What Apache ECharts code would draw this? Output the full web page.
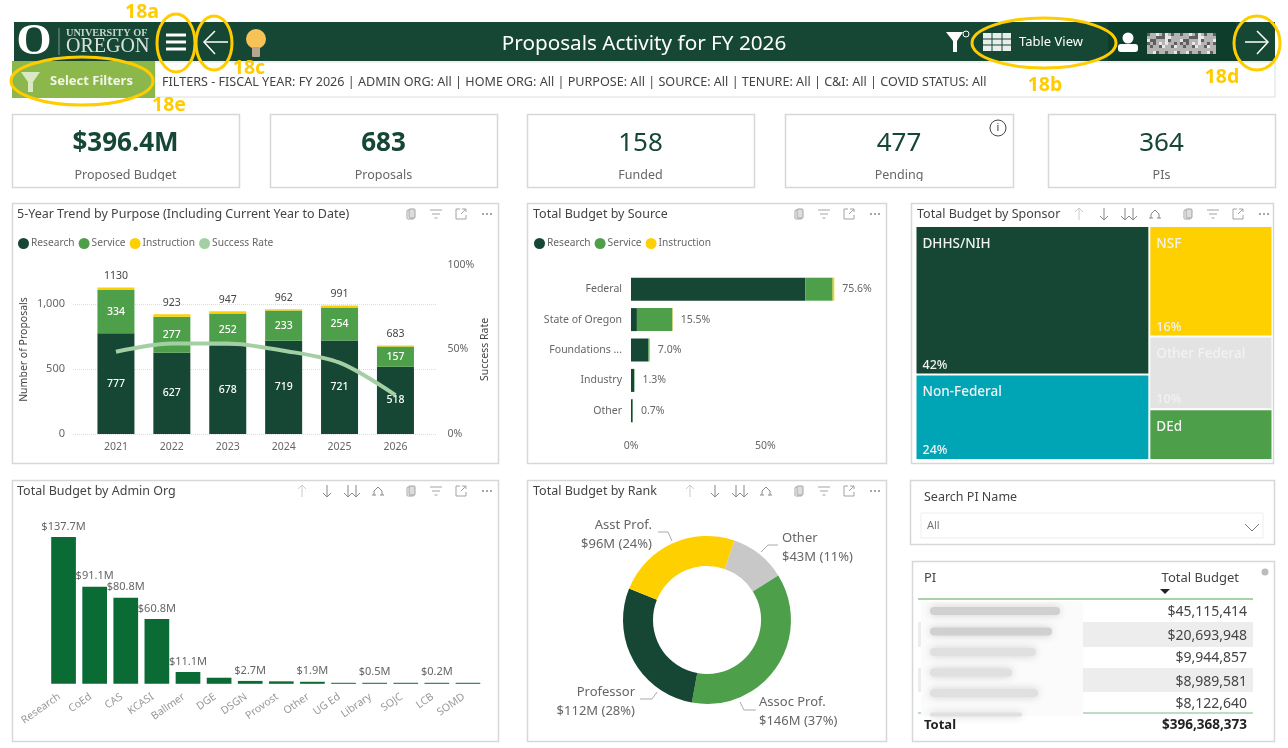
<!DOCTYPE html>
<html lang="en">
<head>
    <meta charset="utf-8">
    <title>Proposals Activity for FY 2026</title>
    <script src="https://cdn.jsdelivr.net/npm/echarts@6/dist/echarts.min.js"></script>
    <style type="text/css">
        html, body { height: 100%; margin: 0; background: #fff; }
    </style>
</head>
<body>
    <div id="main" style="width:1288px;height:748px;"></div>
    <script type="text/javascript">
        // trend chart
        const trendYears = ['2021', '2022', '2023', '2024', '2025', '2026'];
        const trendResearch = [777, 627, 678, 719, 721, 518];
        const trendService = [334, 277, 252, 233, 254, 157];
        const trendInstruction = [19, 19, 17, 10, 16, 8];
        const trendTotals = [1130, 923, 947, 962, 991, 683];
        const trendSuccessRate = [48.7, 53.6, 53.6, 49.3, 42.2, 23];

        // budget by source, percent of total
        const sourceNames = ['Federal', 'State of Oregon', 'Foundations ...', 'Industry', 'Other'];
        const sourceResearch = [64.8, 2.2, 6.4, 1.2, 0.6];
        const sourceService = [10.2, 13.2, 0.5, 0.1, 0.1];
        const sourceInstruction = [0.6, 0.1, 0.1, 0, 0];
        const sourceTotals = ['75.6%', '15.5%', '7.0%', '1.3%', '0.7%'];

        // budget by sponsor
        const sponsorNames = ['DHHS/NIH', 'Non-Federal', 'NSF', 'Other Federal', 'DEd'];
        const sponsorValues = [41.6, 23.9, 16.3, 10.7, 7.5];
        const sponsorLabels = ['42%', '24%', '16%', '10%', ''];
        const sponsorColors = ['#154734', '#00a5b5', '#ffd000', '#e3e3e3', '#4e9f4a'];

        // budget by admin org, $M
        const adminNames = ['Research', 'CoEd', 'CAS', 'KCASI', 'Ballmer', 'DGE', 'DSGN', 'Provost', 'Other', 'UG Ed', 'Library', 'SOJC', 'LCB', 'SOMD'];
        const adminValues = [137.7, 91.1, 80.8, 60.8, 11.1, 5.7, 2.7, 2.3, 1.9, 0.6, 0.5, 0.3, 0.2, 0.1];
        const adminLabels = ['$137.7M', '$91.1M', '$80.8M', '$60.8M', '$11.1M', '', '$2.7M', '', '$1.9M', '', '$0.5M', '', '$0.2M', ''];

        // budget by rank, $M
        const rankNames = ['Other', 'Assoc Prof.', 'Professor', 'Asst Prof.'];
        const rankValues = [43, 146, 112, 96];
        const rankColors = ['#c8c8c8', '#4e9f4a', '#154734', '#ffd000'];

        // KPI tiles
        const kpiValues = ['$396.4M', '683', '158', '477', '364'];
        const kpiNames = ['Proposed Budget', 'Proposals', 'Funded', 'Pending', 'PIs'];

        // PI table
        const piBudgets = ['$45,115,414', '$20,693,948', '$9,944,857', '$8,989,581', '$8,122,640'];
        const piTotal = '$396,368,373';

        const FONT = '"Noto Sans", sans-serif';
        const DARK = '#154734', GREEN = '#4e9f4a', GOLD = '#ffd000', MARK = '#ffcc00';
        const GREY = '#666';

        myChart = echarts.init(document.getElementById('main'));

        // ---- page furniture helpers ----
        function box(x, y, w, h, fill, stroke, r) {
            return { type: 'rect', silent: true, shape: { x: x, y: y, width: w, height: h, r: r || 0 }, style: { fill: fill || '#fff', stroke: stroke || null, lineWidth: stroke ? 1 : 0 } };
        }
        function card(x, y, w, h) {
            return { type: 'rect', silent: true, shape: { x: x + 0.5, y: y + 0.5, width: w, height: h }, style: { fill: '#fff', stroke: '#d6d8d8', lineWidth: 1.5 } };
        }
        function txt(x, y, s, size, color, extra) {
            return {
                type: 'text', silent: true, x: x, y: y,
                style: Object.assign({ text: s, fontSize: size, fill: color, fontFamily: FONT, textVerticalAlign: 'middle' }, extra || {})
            };
        }
        function line(points, color, width) {
            return { type: 'polyline', silent: true, shape: { points: points }, style: { stroke: color, lineWidth: width || 1, fill: null } };
        }
        function ring(cx, cy, rx, ry) {
            return { type: 'ellipse', silent: true, shape: { cx: cx, cy: cy, rx: rx, ry: ry }, style: { stroke: MARK, lineWidth: 3, fill: null } };
        }
        function tag(x, y, s) {
            return txt(x, y, s, 19.5, MARK, { fontWeight: 'bold', textAlign: 'center' });
        }

        // little visual header icons
        const ICON = '#a3a3a3';
        function iconCopy(x, y) {
            return [box(x - 4, y - 4, 7, 9, '#fff', ICON, 1), box(x - 2, y - 5, 6, 9, '#ddd', ICON, 1)];
        }
        function iconFilter(x, y) {
            return [line([[x - 6, y - 4], [x + 6, y - 4]], ICON), line([[x - 4, y], [x + 4, y]], ICON), line([[x - 1.5, y + 4], [x + 1.5, y + 4]], ICON)];
        }
        function iconExpand(x, y) {
            return [line([[x - 1, y - 5], [x - 5, y - 5], [x - 5, y + 5], [x + 5, y + 5], [x + 5, y + 1]], ICON), line([[x + 1, y - 5], [x + 5, y - 5], [x + 5, y - 2]], ICON), line([[x + 5, y - 5], [x, y]], ICON)];
        }
        function iconMore(x, y) {
            return [-4, 0, 4].map(function (d) {
                return { type: 'circle', silent: true, shape: { cx: x + d, cy: y, r: 1 }, style: { fill: '#888' } };
            });
        }
        function iconUp(x, y) {
            return [line([[x, y - 6], [x, y + 6]], '#ccc'), line([[x - 4, y - 2], [x, y - 6], [x + 4, y - 2]], '#ccc')];
        }
        function iconDown(x, y) {
            return [line([[x, y - 6], [x, y + 6]], '#888'), line([[x - 4, y + 2], [x, y + 6], [x + 4, y + 2]], '#888')];
        }
        function iconDown2(x, y) {
            return iconDown(x - 4, y).concat(iconDown(x + 4, y));
        }
        function iconFork(x, y) {
            return [line([[x - 4, y + 4], [x - 4, y], [x, y - 4], [x + 4, y], [x + 4, y + 4]], '#888'), line([[x - 6, y + 4], [x - 2, y + 4]], '#888'), line([[x + 2, y + 4], [x + 6, y + 4]], '#888')];
        }
        function cardHeader(xRight, y, withDrill) {
            let out = [].concat(iconCopy(xRight - 76, y), iconFilter(xRight - 51, y), iconExpand(xRight - 26, y), iconMore(xRight, y));
            if (withDrill) {
                out = out.concat(iconUp(xRight - 185, y), iconDown(xRight - 160, y), iconDown2(xRight - 135, y), iconFork(xRight - 109, y));
            }
            return out;
        }

        // ---- page furniture ----
        let page = [];
        // header band
        page.push(box(14, 22, 1261, 39, DARK), box(1108, 22, 128, 39, '#0f3d2b'));
        page.push(txt(34, 42, 'O', 45, '#fff', { fontFamily: '"Liberation Serif", serif', fontWeight: 'bold', textAlign: 'center' }));
        page.push(line([[59, 28], [59, 55]], '#7f9c90'));
        page.push(txt(66, 33, 'UNIVERSITY OF', 10.3, '#c9d4cf', { fontFamily: '"Liberation Serif", serif', fontWeight: 'bold' }));
        page.push(txt(66, 47, 'OREGON', 20, '#d9e2de', { fontFamily: '"Liberation Serif", serif' }));
        // hamburger, back arrow, bulb
        [35, 42, 49].forEach(function (y) { page.push(line([[166, y], [186, y]], '#fff', 3)); });
        page.push(line([[228, 42], [205, 42]], '#fff', 1.5), line([[215, 31], [204, 42], [215, 54]], '#fff', 1.5));
        page.push({ type: 'circle', silent: true, shape: { cx: 256, cy: 39, r: 10 }, style: { fill: '#f8c356' } });
        page.push(box(252, 47, 8, 10, '#b9a58f', null, 1));
        page.push(txt(644, 44, 'Proposals Activity for FY 2026', 20.7, '#fff', { textAlign: 'center' }));
        // right side of header
        page.push({ type: 'polygon', silent: true, shape: { points: [[946, 32], [963, 32], [957, 41], [957, 52], [953, 52], [953, 41]] }, style: { fill: '#fff' } });
        page.push({ type: 'circle', silent: true, shape: { cx: 966, cy: 34, r: 3 }, style: { stroke: '#fff', fill: null, lineWidth: 1 } });
        page.push(box(983, 33, 28, 18, '#e8eeeb'));
        [39, 45].forEach(function (y) { page.push(line([[983, y], [1011, y]], DARK)); });
        [992, 1002].forEach(function (x) { page.push(line([[x, 33], [x, 51]], DARK)); });
        page.push(txt(1019, 42, 'Table View', 13, '#fff'));
        page.push({ type: 'circle', silent: true, shape: { cx: 1128, cy: 38, r: 5.5 }, style: { fill: '#fff' } });
        page.push(box(1118, 44, 20, 8, '#fff', null, 3));
        // pixelated user name
        page.push(box(1147, 33, 69, 21, '#b4b4b4'));
        for (let i = 0; i < 23; i++) {
            for (let j = 0; j < 7; j++) {
                const k = (i * 7 + j * j * 5 + i * j * 3) % 11;
                if (k < 3) page.push(box(1147 + i * 3, 33 + j * 3, 3, 3, '#5f5f5f'));
                else if (k > 8) page.push(box(1147 + i * 3, 33 + j * 3, 3, 3, '#e8e8e8'));
            }
        }
        page.push(line([[1268, 42], [1245, 42]], '#fff', 1.5), line([[1257, 31], [1268, 42], [1257, 54]], '#fff', 1.5));
        // filter strip
        page.push(box(155, 62, 1120, 35, '#fff', '#dcdede'));
        page.push(box(12, 61, 143, 37, '#8cb84b'));
        page.push({ type: 'polygon', silent: true, shape: { points: [[21, 72], [40, 72], [33, 82], [33, 92], [28, 92], [28, 82]] }, style: { fill: '#dbe8c4' } });
        page.push(txt(50, 81, 'Select Filters', 13, '#f2f6e8', { fontWeight: 'bold' }));
        page.push(txt(162, 82, 'FILTERS - FISCAL YEAR: FY 2026 | ADMIN ORG: All | HOME ORG: All | PURPOSE: All | SOURCE: All | TENURE: All | C&I: All | COVID STATUS: All', 12.6, '#444'));
        // KPI tiles
        const tileX = [12, 270, 527, 785, 1048];
        const tileW = [227, 227, 227, 228, 227];
        kpiValues.forEach(function (v, i) {
            page.push(card(tileX[i], 114, tileW[i], 73));
            page.push(txt(tileX[i] + tileW[i] / 2, 144, v, 26, DARK, { textAlign: 'center', fontWeight: i < 2 ? 'bold' : 'normal' }));
            page.push(txt(tileX[i] + tileW[i] / 2, 175, kpiNames[i], 12.5, GREY, { textAlign: 'center' }));
            // the tile captions are cut off at the bottom in the source
            page.push(box(tileX[i] + 10, 181, tileW[i] - 20, 5, '#fff'));
        });
        page.push({ type: 'circle', silent: true, shape: { cx: 998, cy: 128, r: 8 }, style: { stroke: '#444', fill: '#fff', lineWidth: 1 } });
        page.push(txt(998, 128, 'i', 11, '#444', { textAlign: 'center' }));
        // chart cards
        page.push(card(12, 203, 486, 260), card(527, 203, 359, 260), card(911, 203, 362, 260));
        page.push(card(12, 480, 486, 261), card(527, 480, 359, 261));
        page.push(txt(17, 214, '5-Year Trend by Purpose (Including Current Year to Date)', 12.5, '#444'));
        page.push(txt(533, 214, 'Total Budget by Source', 12.5, '#444'));
        page.push(txt(917, 214, 'Total Budget by Sponsor', 12.5, '#444'));
        page.push(txt(17, 491, 'Total Budget by Admin Org', 12.5, '#444'));
        page.push(txt(533, 491, 'Total Budget by Rank', 12.5, '#444'));
        page = page.concat(cardHeader(487, 214, false), cardHeader(875, 214, false), cardHeader(1264, 214, true), cardHeader(487, 491, true), cardHeader(875, 491, true));
        // slicer
        page.push(card(910, 480, 364, 64));
        page.push(txt(924, 497, 'Search PI Name', 12.5, '#444'));
        page.push(box(921, 513, 342, 25, '#fff', '#eeeeee'));
        page.push(txt(927, 526, 'All', 11, '#777'));
        page.push(line([[1245, 524], [1252, 531], [1259, 524]], '#777'));
        // PI table
        page.push(card(912, 561, 362, 180));
        page.push(txt(924, 578, 'PI', 13, '#444'));
        page.push(txt(1239, 578, 'Total Budget', 13, '#444', { textAlign: 'right' }));
        page.push({ type: 'polygon', silent: true, shape: { points: [[1160, 589], [1170, 589], [1165, 594]] }, style: { fill: '#222' } });
        page.push({ type: 'circle', silent: true, shape: { cx: 1265, cy: 572, r: 3.5 }, style: { fill: '#bbb' } });
        page.push(box(918, 622, 335, 25, '#eeedee'), box(918, 668, 335, 24, '#eeedee'));
        page.push(line([[918, 599], [1253, 599]], '#a8d2a8', 2), line([[918, 713], [1253, 713]], '#a8d2a8', 1.5));
        const rowY = [612, 636, 658, 682, 704];
        // blurred PI names are only grey smudges in the source
        page.push(box(921, 602, 162, 114, '#fbfbfb'));
        const blurW = [130, 122, 106, 82, 108, 92];
        blurW.forEach(function (w, i) {
            page.push({ type: 'rect', silent: true, shape: { x: 930, y: 607 + i * 20.5 + (i === 5 ? 3 : 0), width: w, height: i === 5 ? 4 : 8, r: 4 }, style: { fill: i < 2 ? '#d0d0d0' : '#e0e0e0', shadowBlur: 9, shadowColor: '#d0d0d0' } });
        });
        piBudgets.forEach(function (v, i) {
            page.push(txt(1247, rowY[i], v, 14, '#444', { textAlign: 'right' }));
        });
        page.push(txt(924, 725, 'Total', 13, '#222', { fontWeight: 'bold' }));
        page.push(txt(1247, 725, piTotal, 13.5, '#222', { textAlign: 'right', fontWeight: 'bold' }));
        // callouts
        page.push(ring(176, 43, 19, 29), ring(214, 43, 18, 27), ring(82, 81, 71, 24), ring(1044, 43, 72, 25), ring(1257, 43, 23, 27));
        page.push(tag(142, 12, '18a'), tag(249, 68, '18c'), tag(169, 105, '18e'), tag(1045, 85, '18b'), tag(1222, 77, '18d'));

        // ---- treemap data: two columns like the source ----
        function sponsorLeaf(i) {
            return { name: sponsorNames[i], value: sponsorValues[i], pct: sponsorLabels[i], itemStyle: { color: sponsorColors[i] } };
        }
        function sumOf(list) {
            return list.reduce(function (a, i) { return a + sponsorValues[i]; }, 0);
        }
        const sponsorTree = [
            { name: 'left', value: sumOf([0, 1]), children: [0, 1].map(sponsorLeaf) },
            { name: 'right', value: sumOf([2, 3, 4]), children: [2, 3, 4].map(sponsorLeaf) }
        ];
        function sponsorSeries(labelOpt, overlay) {
            const clear = 'rgba(0,0,0,0)';
            const lvl = overlay ? { itemStyle: { color: clear, borderColor: clear, gapWidth: 2, borderWidth: 0 } } : { itemStyle: { gapWidth: 2, borderWidth: 0 } };
            return {
                type: 'treemap', left: 916.5, top: 227, width: 355, height: 232,
                roam: false, nodeClick: false, sort: false, breadcrumb: { show: false },
                silent: true, z: overlay ? 3 : 2,
                squareRatio: 1,
                label: labelOpt,
                levels: [lvl, lvl, lvl],
                data: overlay ? sponsorTree.map(function (g) {
                    return { name: g.name, value: g.value, children: g.children.map(function (c) { return { name: c.name, value: c.value, pct: c.pct, itemStyle: { color: clear } }; }) };
                }) : sponsorTree
            };
        }

        function commonLegend(left, top, names) {
            return {
                left: left, top: top, data: names, icon: 'circle', itemWidth: 11, itemHeight: 11, itemGap: 4,
                selectedMode: false, padding: 0,
                textStyle: { color: GREY, fontSize: 10.2, fontFamily: FONT, padding: [0, 0, 0, -3] }
            };
        }

        // where the rank labels and their leader lines sit in the source
        const rankLabelSpots = [
            { x: 782, y: 547.5, align: 'left', labelLinePoints: [[761, 552], [768, 545], [778, 545]] },
            { x: 759, y: 712, align: 'left', labelLinePoints: [[740, 702], [744, 710], [756, 710]] },
            { x: 635, y: 701.5, align: 'right', labelLinePoints: [[657, 692], [652, 699], [640, 699]] },
            { x: 652, y: 535, align: 'right', labelLinePoints: [[672, 541], [668, 532], [658, 532]] }
        ];

        const option = {
            animation: false,
            textStyle: { fontFamily: FONT },
            graphic: { elements: page },
            legend: [
                commonLegend(18, 238, ['Research', 'Service', 'Instruction', 'Success Rate']),
                commonLegend(534, 238, ['Research', 'Service', 'Instruction'])
            ],
            grid: [
                { left: 73, top: 304.3, width: 364, height: 129.7 },   // gridlines of the trend chart
                { left: 88, top: 265, width: 335.4, height: 169 },     // trend bars
                { left: 631, top: 274, width: 242, height: 152 },      // source bars
                { left: 48, top: 524, width: 435.5, height: 159.8 }    // admin org bars
            ],
            xAxis: [
                { gridIndex: 0, type: 'value', show: false, min: 0, max: 1 },
                {
                    gridIndex: 1, type: 'category', data: trendYears,
                    axisLine: { show: false }, axisTick: { show: false },
                    axisLabel: { color: GREY, fontSize: 10.5, margin: 8 }
                },
                {
                    gridIndex: 2, type: 'value', min: 0, max: 90,
                    axisLine: { show: false }, axisTick: { show: false }, splitLine: { show: false },
                    axisLabel: { color: GREY, fontSize: 10.5, margin: 15, customValues: [0, 50], formatter: '{value}%' }
                },
                {
                    gridIndex: 3, type: 'category', data: adminNames,
                    axisLine: { show: false }, axisTick: { show: false },
                    axisLabel: { color: '#999', fontSize: 10.5, rotate: 35, interval: 0, margin: 9, padding: [0, 5, 0, 0] }
                }
            ],
            yAxis: [
                {
                    gridIndex: 0, type: 'value', min: 0, max: 1000, interval: 500,
                    axisLine: { show: false }, axisTick: { show: false },
                    axisLabel: { color: GREY, fontSize: 11, margin: 8 },
                    splitLine: { lineStyle: { color: '#dcdcdc', type: 'dotted' } }
                },
                {
                    gridIndex: 1, type: 'value', min: 0, max: 1303,
                    axisLine: { show: false }, axisTick: { show: false }, axisLabel: { show: false }, splitLine: { show: false },
                    name: 'Number of Proposals', nameLocation: 'middle', nameGap: 58,
                    nameTextStyle: { color: '#444', fontSize: 10.5 }
                },
                {
                    gridIndex: 1, type: 'value', min: 0, max: 100, interval: 50, position: 'right', offset: 20,
                    axisLine: { show: false },
                    axisTick: { inside: true, length: 13, lineStyle: { color: '#d8d8d8', type: 'dotted' } },
                    axisLabel: { color: GREY, fontSize: 10.5, margin: 4, formatter: '{value}%' },
                    splitLine: { show: false },
                    name: 'Success Rate', nameLocation: 'middle', nameGap: 36, nameRotate: 90,
                    nameTextStyle: { color: '#444', fontSize: 10.5 }
                },
                {
                    gridIndex: 2, type: 'category', data: sourceNames, inverse: true,
                    axisLine: { show: false }, axisTick: { show: false },
                    axisLabel: { color: GREY, fontSize: 10.5, margin: 9 }
                },
                {
                    gridIndex: 3, type: 'value', min: 0, max: 150, show: false
                }
            ],
            series: [
                // trend
                {
                    type: 'bar', name: 'Research', xAxisIndex: 1, yAxisIndex: 1, stack: 'trend', barWidth: 37,
                    data: trendResearch, itemStyle: { color: DARK },
                    label: { show: true, color: '#fff', fontSize: 10.5, fontWeight: 500 }
                },
                {
                    type: 'bar', name: 'Service', xAxisIndex: 1, yAxisIndex: 1, stack: 'trend',
                    data: trendService, itemStyle: { color: GREEN },
                    label: { show: true, color: '#fff', fontSize: 10.5, fontWeight: 500 }
                },
                {
                    type: 'bar', name: 'Instruction', xAxisIndex: 1, yAxisIndex: 1, stack: 'trend',
                    data: trendInstruction, itemStyle: { color: GOLD },
                    label: {
                        show: true, position: 'top', distance: 6, color: '#444', fontSize: 10.5,
                        formatter: function (p) { return trendTotals[p.dataIndex]; }
                    }
                },
                {
                    type: 'line', name: 'Success Rate', xAxisIndex: 1, yAxisIndex: 2, smooth: 0.3, showSymbol: false,
                    data: trendSuccessRate, itemStyle: { color: '#a4cfa4' }, lineStyle: { color: '#a4cfa4', width: 4 }, z: 5
                },
                // source
                {
                    type: 'bar', name: 'Research', xAxisIndex: 2, yAxisIndex: 3, stack: 'source', barWidth: 23,
                    data: sourceResearch, itemStyle: { color: DARK }
                },
                {
                    type: 'bar', name: 'Service', xAxisIndex: 2, yAxisIndex: 3, stack: 'source',
                    data: sourceService, itemStyle: { color: GREEN }
                },
                {
                    type: 'bar', name: 'Instruction', xAxisIndex: 2, yAxisIndex: 3, stack: 'source',
                    data: sourceInstruction, itemStyle: { color: GOLD },
                    label: {
                        show: true, position: 'right', distance: 8, color: GREY, fontSize: 10.5,
                        formatter: function (p) { return sourceTotals[p.dataIndex]; }
                    }
                },
                // sponsor: colour + name, then an overlay that carries the percent
                sponsorSeries({ show: true, position: 'insideTopLeft', distance: 5, offset: [-4, 0], color: '#f2f2f2', fontSize: 13.5, fontWeight: 500, formatter: '{b}' }, false),
                sponsorSeries({
                    show: true, position: 'insideBottomLeft', distance: 5, offset: [-4, 8], color: '#f2f2f2', fontSize: 12.5, fontWeight: 500,
                    formatter: function (p) { return p.data.pct || ''; }
                }, true),
                // admin org
                {
                    type: 'bar', xAxisIndex: 3, yAxisIndex: 4, barWidth: 24.7, barMinHeight: 1,
                    data: adminValues, itemStyle: { color: '#0a6b35' },
                    label: {
                        show: true, position: 'top', distance: 5, color: GREY, fontSize: 11,
                        formatter: function (p) { return adminLabels[p.dataIndex]; }
                    }
                },
                // rank
                {
                    type: 'pie', center: [707, 620], radius: [54, 84], startAngle: 71, clockwise: true,
                    percentPrecision: 0, avoidLabelOverlap: false,
                    data: rankNames.map(function (n, i) {
                        return { name: n, value: rankValues[i], itemStyle: { color: rankColors[i] } };
                    }),
                    label: {
                        color: GREY, fontSize: 13, lineHeight: 19,
                        formatter: function (p) { return p.name + '\n$' + p.value + 'M (' + p.percent + '%)'; }
                    },
                    labelLine: { length: 8, length2: 16, lineStyle: { color: '#aaa' } },
                    labelLayout: function (p) {
                        return rankLabelSpots[p.dataIndex];
                    }
                }
            ]
        };
        option && myChart.setOption(option);
    </script>
</body>
</html>
